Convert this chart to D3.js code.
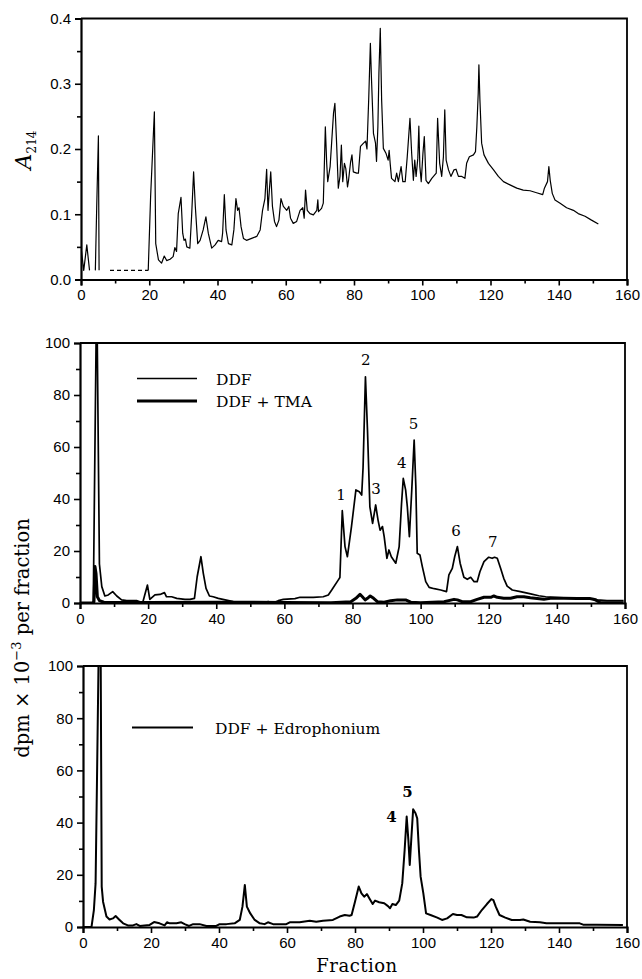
<!DOCTYPE html>
<html>
<head>
<meta charset="utf-8">
<script src="https://cdn.jsdelivr.net/npm/d3@7"></script>
<style>
  body { margin: 0; background: #fff; }
  svg { display: block; }
</style>
</head>
<body>
<div id="chart"></div>
<script>
// shared fraction axis
const fractionTicks = [0, 20, 40, 60, 80, 100, 120, 140, 160];
const fractionMinor = [10, 30, 50, 70, 90, 110, 130, 150];

// top panel: A214 absorbance, null marks a break in the record
const a214Fraction = [0, 0.8, 1.7, 2.5, 3.3,
  4.2, 4.6, 5.1, 5.3, 6,
  19.7, 20.4, 21.5, 21.9, 22.7, 23.6, 24.4, 25.1, 26.1, 27, 27.5, 28, 28.5, 29.3, 29.8, 30.2, 30.6, 31, 31.9,
  32.4, 33, 33.5, 34.2, 34.9, 35.8, 36.6, 37.3, 38.3, 39.3, 40.2, 41.2, 41.5, 42, 42.5, 43.2, 44.2, 44.8,
  45.4, 45.9, 46.3, 46.9, 47.6, 48.5, 50, 51.5, 52.5, 53.2, 53.9, 54.4, 54.8, 55.2, 55.6, 56.1, 56.7, 57.3,
  58, 58.6, 59.3, 60.3, 60.9, 61.4, 62.2, 63.2, 64.2, 65, 65.4, 65.8, 66.3, 67.1, 68.1, 69.1, 69.4, 69.6,
  70.5, 71, 71.3, 71.6, 72, 72.3, 73, 73.5, 74, 74.4, 74.9, 75.4, 75.9, 76.3, 76.7, 77.2, 77.6, 78.1, 78.4,
  79, 79.4, 79.8, 80.8, 81.3, 81.9, 82.8, 83.4, 83.8, 84.3, 84.8, 85.1, 85.7, 86.3, 86.6, 87, 87.3, 87.7,
  88.1, 88.6, 89.4, 90, 90.3, 90.6, 91, 92, 92.5, 93, 93.8, 94.3, 95, 95.6, 96.4, 96.9, 97.4, 97.8, 98.2,
  98.7, 99, 99.3, 99.7, 100.2, 100.6, 101.1, 101.8, 102.8, 104.1, 104.5, 105.1, 105.7, 106.2, 106.6, 107,
  107.7, 108.4, 109.3, 109.9, 110.6, 111.6, 112.5, 113, 113.8, 115, 115.6, 116, 116.4, 116.6, 116.9, 117.4,
  118.1, 119.4, 120.9, 122.3, 123.8, 125.7, 127.7, 129.6, 131.6, 133.5, 135.3, 135.8, 136.7, 137.1, 137.5,
  138.1, 138.9, 140.4, 142.3, 144.3, 145.7, 147.7, 149.6, 151.6];
const a214Value = [0.05, 0.014, 0.053, 0.014, null,
  0.014, 0.11, 0.22, 0.014, null,
  0.014, 0.127, 0.257, 0.055, 0.03, 0.025, 0.036, 0.029, 0.031, 0.035, 0.049, 0.043, 0.101, 0.126, 0.071, 0.06, 0.062, 0.05, 0.048,
  0.096, 0.165, 0.112, 0.055, 0.06, 0.076, 0.096, 0.071, 0.048, 0.053, 0.06, 0.058, 0.071, 0.13, 0.076, 0.055, 0.053, 0.076,
  0.124, 0.106, 0.11, 0.081, 0.063, 0.06, 0.063, 0.066, 0.076, 0.106, 0.124, 0.169, 0.106, 0.137, 0.165, 0.112, 0.089, 0.081,
  0.091, 0.124, 0.112, 0.106, 0.112, 0.094, 0.086, 0.089, 0.106, 0.11, 0.094, 0.137, 0.106, 0.101, 0.099, 0.106, 0.122, 0.104,
  0.109, 0.117, 0.173, 0.234, 0.178, 0.15, 0.173, 0.214, 0.255, 0.27, 0.209, 0.14, 0.158, 0.206, 0.15, 0.178, 0.17, 0.142, 0.152,
  0.18, 0.191, 0.165, 0.163, 0.163, 0.204, 0.209, 0.212, 0.2, 0.275, 0.362, 0.311, 0.224, 0.209, 0.181, 0.234, 0.316, 0.385,
  0.275, 0.201, 0.193, 0.183, 0.198, 0.178, 0.155, 0.15, 0.163, 0.15, 0.173, 0.15, 0.15, 0.188, 0.247, 0.193, 0.152, 0.183, 0.158,
  0.186, 0.235, 0.173, 0.15, 0.193, 0.219, 0.152, 0.147, 0.155, 0.163, 0.247, 0.178, 0.158, 0.188, 0.26, 0.183,
  0.168, 0.158, 0.168, 0.169, 0.158, 0.158, 0.155, 0.178, 0.188, 0.191, 0.196, 0.234, 0.285, 0.329, 0.275, 0.209,
  0.191, 0.178, 0.168, 0.158, 0.15, 0.145, 0.14, 0.137, 0.136, 0.133, 0.13, 0.14, 0.15, 0.173, 0.152,
  0.132, 0.122, 0.117, 0.11, 0.106, 0.101, 0.097, 0.091, 0.085];
// dotted stretch of the baseline
const a214DotFraction = [8.5, 19.7];
const a214DotValue = [0.014, 0.014];
const a214Ticks = [0, 0.1, 0.2, 0.3, 0.4];
const a214Minor = [0.05, 0.15, 0.25, 0.35];

// dpm panels
const dpmTicks = [0, 20, 40, 60, 80, 100];
const dpmMinor = [10, 30, 50, 70, 90];

// middle panel: DDF
const ddfFraction = [0, 3.5, 3.9, 4.8, 5.0, 5.7, 6.4, 7.3, 8.3, 9.6, 10.8, 12.2, 13.7, 16.6, 18.4, 19.8, 20.5, 22,
  23.5, 24.8, 25.4, 26.9, 28.4, 30.8, 32.3, 33.6, 34.4, 35.5, 36.2, 37, 38, 39.1, 40.6, 42.6, 45, 47.9, 52.8,
  55.3, 56.8, 58.2, 59.7, 63.1, 64.6, 68.5, 71.4, 72.9, 73.9, 75.8, 76.3, 77, 77.8, 78.5, 79.7, 81, 82, 82.7,
  83.1, 83.8, 84.4, 85.1, 85.9, 86.8, 87.5, 88.1, 88.8, 89.3, 90.1, 90.7, 91.4, 92.7, 93.7, 94.4, 94.9, 95.6,
  96.1, 96.7, 97.4, 98.1, 98.6, 99, 99.8, 100.5, 101.5, 102.5, 104, 105.9, 107.6, 108.3, 109.3, 110, 110.8,
  111.6, 112.7, 113.7, 114.7, 115.7, 116.6, 117.4, 118.6, 120, 121, 121.7, 122.5, 123.5, 124.4, 125.4, 126.9,
  129.3, 132.3, 134.7, 136.7, 142, 147.9, 150.8, 151.8, 154.7, 159.6];
const ddfValue = [0, 0, 0.5, 110, 110, 15, 6.3, 2.7, 3.1, 4.4, 2.7, 1.2, 0.9, 0.9, 0.1, 6.9, 1.4, 3.1,
  3.3, 4, 2.4, 2.4, 1.8, 1.4, 1.4, 1.8, 10.1, 17.8, 11.4, 5.6, 2.7, 2.4, 1.8, 1.2, 0.5, 0.1, 0.1,
  0.5, 0.1, 0.9, 1.4, 1.7, 2.2, 2.2, 2.4, 3.1, 5, 8.8, 9.8, 35.5, 21.7, 17.8, 29.4, 43.5, 42.8, 41.5,
  52, 87, 66.5, 37, 30.6, 37.7, 31.9, 28, 29.4, 25.5, 17.2, 20.4, 17.8, 15.3, 21.7, 38.3, 47.9, 43.5,
  37, 25.5, 43.5, 62.7, 44.7, 19.1, 18.5, 14, 8.2, 6, 5.5, 5, 4.4, 10.8, 13.3, 17.8, 21.7,
  15.3, 9.9, 9.1, 9.9, 8.2, 8.2, 12, 15.9, 17.6, 17.2, 17.6, 17.2, 13.3, 9.5, 6.5, 5,
  4.4, 3.5, 2.8, 2.4, 2, 1.8, 1.7, 1.2, 0.9, 0.9];

// middle panel: DDF + TMA
const tmaFraction = [0, 3.8, 4.1, 4.4, 4.7, 5.1, 5.7, 7, 20, 40, 60, 73.7, 79.5, 81, 82.2, 82.9, 83.7, 84.4,
  85.2, 86.2, 87.3, 89.3, 91.2, 93.2, 95.6, 97.1, 100, 106.9, 109.8, 110.8, 112.2, 114.7, 116.6, 118.6,
  120.6, 121.5, 122.5, 124.4, 126.4, 128.3, 130.3, 132.2, 136.2, 138.1, 142, 145.9, 149.8, 151.3, 152.8, 159.6];
const tmaValue = [0, 0, 0.5, 14, 11.4, 2.4, 0.9, 0.3, 0.2, 0.3, 0.2, 0.1, 0.5, 1.8, 3.3, 2.4, 1.2, 1.8,
  2.7, 1.8, 0.5, 0.3, 0.9, 1.2, 1.2, 0.3, 0.1, 0.5, 1.4, 1.2, 0.5, 0.5, 1.4, 2.2,
  2.2, 2.7, 2.2, 1.8, 1.8, 2.4, 2.4, 2, 1.4, 1.8, 1.8, 1.7, 1.7, 1.2, 0.1, 0.1];

const peakNames = ['1', '2', '3', '4', '5', '6', '7'];
const peakFraction = [76.6, 83.9, 86.9, 94.5, 97.9, 110.4, 121.2];
const peakValue = [39.6, 91.5, 41.8, 52, 66.8, 25.8, 21.4];

// bottom panel: DDF + Edrophonium
const edroFraction = [0, 2.5, 3.2, 3.7, 4.1, 4.6, 5.2, 5.5, 5.9, 6.9, 7.8, 8.8, 9.6, 10.6, 11.8, 13.2, 14.7,
  15.7, 16.7, 18.1, 19.6, 20.9, 22.5, 24, 24.7, 25.5, 27.5, 28.9, 29.9, 31.2, 32.4, 34.3, 36.3, 39.2, 40.2,
  42.2, 44.6, 46.1, 46.9, 47.6, 48.2, 49.2, 50.5, 52, 53.4, 54.4, 55.9, 57.8, 59.8, 60.8, 63.7, 66.7, 68.6,
  70.6, 73.5, 75.5, 77, 78.4, 79, 80, 81.1, 81.9, 82.7, 83.5, 84.2, 85.2, 85.9, 87.1, 88.6, 89.7, 90.3, 91,
  92, 93, 93.9, 94.6, 95.2, 95.7, 96.1, 96.6, 97.1, 97.8, 98.3, 98.8, 99.3, 100.1, 100.9, 102.2, 104.2,
  105.6, 107.1, 108.8, 110, 111.3, 112.9, 114.9, 115.9, 117.3, 118.8, 120.1, 120.7, 121.4, 122.5, 124.2,
  126.1, 128.5, 129.5, 131.5, 134.4, 136.3, 141.2, 146.1, 147.1, 151, 158.8];
const edroValue = [0, 0, 6.5, 16.7, 55, 105, 105, 15.5, 9.7, 4, 2.9, 3.3, 4.2, 2.9, 1.4, 0.6, 0.6,
  1.1, 0.4, 0.6, 0.8, 1.9, 1.4, 0.6, 1.8, 1.4, 1.4, 1.8, 1.1, 0.4, 1.1, 1.1, 0.4, 0.4, 1.1,
  1.1, 1.4, 2.7, 7.8, 16.1, 7.8, 5.2, 2.7, 1.4, 1.1, 1.8, 1.1, 1.1, 1.1, 1.8, 1.8, 2.4, 2,
  2.4, 2.7, 4, 4.6, 4.3, 4.6, 9.7, 15.5, 12.9, 11.6, 12.6, 11, 8.8, 10.1, 9.5, 9.1, 8, 7.2, 8.8,
  8.4, 10.1, 16.7, 29.5, 42.3, 33.3, 23.8, 34.6, 45.1, 43.6, 41.6, 29.5, 19.3, 12.9, 5.2, 4.6, 3.6,
  2.7, 3.3, 5, 4.6, 4.6, 3.7, 3.6, 4, 6.5, 8.8, 10.7, 10.3, 7.8, 4.6, 3.6,
  2.7, 2.7, 2.9, 2, 1.8, 1.4, 1.4, 1.4, 0.9, 0.9, 0.8];

const edroPeakNames = ['4', '5'];
const edroPeakFraction = [90.7, 95.4];
const edroPeakValue = [40.3, 49.9];

const tickFont = "'Liberation Sans', Arial, sans-serif";
const serif = "'DejaVu Serif', serif";

const svg = d3.select('#chart').append('svg')
  .attr('width', 642)
  .attr('height', 979);

function panel(id, box, yDomain, yTicks, yMinor, yFormat) {
  const x = d3.scaleLinear().domain([0, 160]).range([box.left, box.right]);
  const y = d3.scaleLinear().domain(yDomain).range([box.bottom, box.top]);

  svg.append('clipPath').attr('id', id)
    .append('rect')
    .attr('x', box.left).attr('y', box.top)
    .attr('width', box.right - box.left).attr('height', box.bottom - box.top);

  // frame top + right
  svg.append('path')
    .attr('d', `M${box.left},${box.top}H${box.right}V${box.bottom}`)
    .attr('fill', 'none').attr('stroke', '#000').attr('stroke-width', 1.8);

  const xAxis = svg.append('g')
    .attr('transform', 'translate(0,' + box.bottom + ')')
    .call(d3.axisBottom(x).tickValues(fractionTicks).tickSize(6).tickPadding(4));
  svg.append('g')
    .attr('transform', 'translate(0,' + box.bottom + ')')
    .call(d3.axisBottom(x).tickValues(fractionMinor).tickSize(4).tickFormat(''))
    .call(g => g.select('.domain').remove());

  const yAxis = svg.append('g')
    .attr('transform', 'translate(' + box.left + ',0)')
    .call(d3.axisLeft(y).tickValues(yTicks).tickSize(6).tickPadding(4).tickFormat(yFormat));
  svg.append('g')
    .attr('transform', 'translate(' + box.left + ',0)')
    .call(d3.axisLeft(y).tickValues(yMinor).tickSize(4).tickFormat(''))
    .call(g => g.select('.domain').remove());

  svg.selectAll('.domain').attr('stroke-width', 2.2);
  svg.selectAll('.tick line').attr('stroke-width', 1.6);
  [xAxis, yAxis].forEach(a => a.selectAll('text')
    .style('font-family', tickFont)
    .style('font-size', '15px')
    .attr('fill', '#000'));

  return { x, y };
}

function trace(p, id, fr, val, width, dash) {
  const line = d3.line()
    .defined(d => d[1] != null)
    .x(d => p.x(d[0]))
    .y(d => p.y(d[1]));
  svg.append('path')
    .datum(d3.zip(fr, val))
    .attr('clip-path', 'url(#' + id + ')')
    .attr('fill', 'none')
    .attr('stroke', '#000')
    .attr('stroke-width', width)
    .attr('stroke-linejoin', 'round')
    .attr('stroke-dasharray', dash || null)
    .attr('d', line);
}

// ---- top panel
const p1 = panel('clip1', { left: 81, right: 627, top: 18.5, bottom: 279.5 },
  [0, 0.4], a214Ticks, a214Minor, d3.format('.1f'));
trace(p1, 'clip1', a214Fraction, a214Value, 1.2);
trace(p1, 'clip1', a214DotFraction, a214DotValue, 1.2, '4,3');

const a214Label = svg.append('text')
  .attr('transform', 'translate(31,150) rotate(-90)')
  .attr('text-anchor', 'middle')
  .style('font-family', serif);
a214Label.append('tspan').text('A').style('font-style', 'italic').style('font-size', '22px');
a214Label.append('tspan').text('214').attr('dy', 5).style('font-size', '12px');

// ---- middle panel
const p2 = panel('clip2', { left: 80, right: 625, top: 343, bottom: 603 },
  [0, 100], dpmTicks, dpmMinor, d3.format('d'));
trace(p2, 'clip2', tmaFraction, tmaValue, 3);
trace(p2, 'clip2', ddfFraction, ddfValue, 1.7);

svg.selectAll('.peak2')
  .data(peakNames)
  .enter().append('text')
  .attr('class', 'peak2')
  .attr('x', (d, i) => p2.x(peakFraction[i]))
  .attr('y', (d, i) => p2.y(peakValue[i]))
  .attr('text-anchor', 'middle')
  .style('font-family', serif)
  .style('font-size', '15px')
  .text(d => d);

// legend
const leg2 = [{ name: 'DDF', w: 1.7, y: 378.5 }, { name: 'DDF + TMA', w: 3, y: 401 }];
leg2.forEach(l => {
  svg.append('line').attr('x1', 137).attr('x2', 197).attr('y1', l.y).attr('y2', l.y)
    .attr('stroke', '#000').attr('stroke-width', l.w);
  svg.append('text').attr('x', 216).attr('y', l.y + 6)
    .style('font-family', serif).style('font-size', '15.5px').text(l.name);
});

// ---- bottom panel
const p3 = panel('clip3', { left: 83, right: 627, top: 666, bottom: 927 },
  [0, 100], dpmTicks, dpmMinor, d3.format('d'));
trace(p3, 'clip3', edroFraction, edroValue, 2);

svg.selectAll('.peak3')
  .data(edroPeakNames)
  .enter().append('text')
  .attr('class', 'peak3')
  .attr('x', (d, i) => p3.x(edroPeakFraction[i]))
  .attr('y', (d, i) => p3.y(edroPeakValue[i]))
  .attr('text-anchor', 'middle')
  .style('font-family', serif)
  .style('font-size', '15px')
  .style('font-weight', 'bold')
  .text(d => d);

svg.append('line').attr('x1', 132).attr('x2', 193).attr('y1', 727.5).attr('y2', 727.5)
  .attr('stroke', '#000').attr('stroke-width', 2);
svg.append('text').attr('x', 215).attr('y', 733.5)
  .style('font-family', serif).style('font-size', '15.5px').text('DDF + Edrophonium');

// shared labels
const dpmLabel = svg.append('text')
  .attr('transform', 'translate(29,638) rotate(-90)')
  .attr('text-anchor', 'middle')
  .style('font-family', serif)
  .style('font-size', '19.5px');
dpmLabel.append('tspan').text('dpm × 10');
dpmLabel.append('tspan').text('−3').attr('dy', -8).style('font-size', '13px');
dpmLabel.append('tspan').text(' per fraction').attr('dy', 8);

svg.append('text')
  .attr('x', 357).attr('y', 972)
  .attr('text-anchor', 'middle')
  .style('font-family', serif)
  .style('font-size', '18px')
  .style('letter-spacing', '0.5px')
  .text('Fraction');
</script>
</body>
</html>
